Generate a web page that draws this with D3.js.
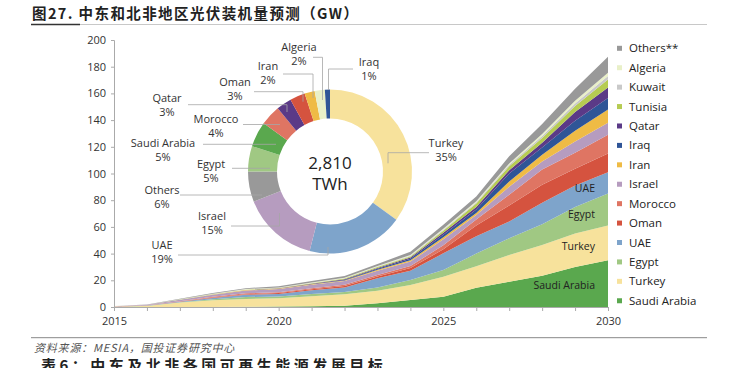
<!DOCTYPE html>
<html><head><meta charset="utf-8">
<script src="https://cdn.jsdelivr.net/npm/d3@7"></script>
<style>
html,body{margin:0;padding:0;background:#fff;}
svg{display:block;}
</style>
</head><body>
<svg id="c" width="739" height="368"></svg>
<script>
const years = [2015,2016,2017,2018,2019,2020,2021,2022,2023,2024,2025,2026,2027,2028,2029,2030];
const series = ["Saudi Arabia","Turkey","Egypt","UAE","Oman","Morocco","Israel","Iran","Iraq","Qatar","Tunisia","Kuwait","Algeria","Others**"];
const saudi   = [0,   0,   0,   0.05,0.1, 0.3, 0.5, 1.0, 2.8, 5.2, 7.7, 14.5,19,  23.5,30,  35];
const turkey  = [0.1, 0.8, 3.4, 5.1, 5.9, 6.2, 7.5, 8.5, 9.4, 11.3,15,  16,  20,  23,  25,  26];
const egypt   = [0.02,0.05,0.1, 0.6, 1.5, 1.3, 1.7, 1.7, 2.5, 3.7, 5,   9.5, 12.5,15.5,20,  24];
const uae     = [0.1, 0.3, 0.5, 1.0, 1.6, 2.0, 2.8, 3.5, 6.8, 7,   12.5,13,  12.5,16,  16,  16];
const oman    = [0.02,0.05,0.1, 0.3, 0.5, 0.6, 0.8, 1.0, 1.3, 2,   3,   8,   12,  13.5,12.5,14];
const morocco = [0.1, 0.1, 0.3, 0.6, 0.7, 0.7, 0.8, 0.9, 1.2, 1.5, 3,   4.5, 8,   11.5,12,  14];
const israel  = [0.3, 0.3, 1.0, 1.5, 2.0, 2.3, 2.5, 2.8, 3.2, 3.3, 4.5, 3.5, 6,   6,   8.5, 9];
const iran    = [0,   0.02,0.1, 0.3, 0.4, 0.4, 0.4, 0.5, 0.7, 1,   1.5, 1.5, 4,   5,   8,   10];
const iraq    = [0,   0,   0,   0,   0.05,0.1, 0.1, 0.3, 0.8, 1.2, 2,   2.5, 6,   5.5, 7.5, 8.5];
const qatar   = [0,   0,   0,   0,   0.05,0.1, 0.3, 0.6, 0.6, 0.8, 1.5, 2,   2.5, 3.5, 6.5, 8];
const tunisia = [0,   0.02,0.05,0.1, 0.2, 0.3, 0.4, 0.5, 0.6, 0.8, 1.5, 2.5, 3,   3.5, 4.5, 6];
const kuwait  = [0,   0.02,0.05,0.1, 0.1, 0.1, 0.2, 0.3, 0.4, 0.5, 0.7, 0.8, 1,   1.5, 2,   2.5];
const algeria = [0.1, 0.1, 0.2, 0.3, 0.3, 0.3, 0.4, 0.4, 0.5, 0.6, 0.8, 0.9, 1,   1.5, 2,   2.5];
const others  = [0.1, 0.1, 0.3, 0.5, 0.7, 0.8, 1.0, 1.2, 1.5, 2.5, 3,   3.5, 5.5, 7.5, 9,   12];
const seriesValues = [saudi,turkey,egypt,uae,oman,morocco,israel,iran,iraq,qatar,tunisia,kuwait,algeria,others];
const colors = ["#5aa84e","#f7e29c","#a0c883","#7ea4cb","#d5533f","#df7563","#b69cbf","#efbb45","#2f5597","#5b3a87","#b6cc52","#c9c9c9","#e9f0c8","#999999"];

const yTicks = [0,20,40,60,80,100,120,140,160,180,200];
const xTickLabels = [2015,2020,2025,2030];
const areaLabels = ["Saudi Arabia","Turkey","Egypt","UAE"];

const pieNames = ["Turkey","UAE","Israel","Others","Egypt","Saudi Arabia","Morocco","Qatar","Oman","Iran","Algeria","Iraq"];
const pieValues = [35,19,15,6,5,5,4,3,3,2,2,1];
const pieColors = ["#f7e29c","#7ea4cb","#b69cbf","#999999","#a0c883","#5aa84e","#df7563","#5b3a87","#d5533f","#efbb45","#e9f0c8","#2f5597"];
const pieCenterText = ["2,810","TWh"];

const titleText = "图27. 中东和北非地区光伏装机量预测（GW）";
const sourceText = "资料来源：MESIA，国投证券研究中心";
const nextTitle = "表6：中东及北非各国可再生能源发展目标";

const svg = d3.select("#c");
const FONT = "'Open Sans', sans-serif";
const CJK = "'Noto Sans CJK SC', sans-serif";

// title
svg.append("text").attr("x",32).attr("y",19).attr("font-family",CJK).attr("font-weight","bold")
  .attr("font-size",14.5).attr("letter-spacing",1.4).attr("fill","#222").text(titleText);
svg.append("line").attr("x1",31).attr("x2",707).attr("y1",24.5).attr("y2",24.5).attr("stroke","#c8c8c8").attr("stroke-width",1);
svg.append("line").attr("x1",31).attr("x2",80).attr("y1",24.5).attr("y2",24.5).attr("stroke","#333").attr("stroke-width",1.5);

const x = d3.scaleLinear().domain([2015,2030]).range([114,608]);
const y = d3.scaleLinear().domain([0,200]).range([307,40]);

// data table
const table = years.map((yr,i)=>{const o={year:yr}; series.forEach((s,j)=>o[s]=seriesValues[j][i]); return o;});
const stack = d3.stack().keys(series)(table);
const area = d3.area().x(d=>x(d.data.year)).y0(d=>y(d[0])).y1(d=>y(d[1]));
svg.append("g").selectAll("path").data(stack).join("path")
  .attr("d",area).attr("fill",(d,i)=>colors[i]);

// axes
const yAxis = d3.axisLeft(y).tickValues(yTicks).tickSize(3).tickPadding(5);
const gy = svg.append("g").attr("transform","translate(114,0)").call(yAxis);
gy.select(".domain").attr("stroke","#aaa");
gy.selectAll(".tick line").attr("stroke","#aaa");
gy.selectAll("text").attr("font-family",FONT).attr("font-size",11).attr("fill","#333");

const xAxis = d3.axisBottom(x).tickValues(years).tickSize(4).tickPadding(6)
  .tickFormat(d=>xTickLabels.includes(d)?d:"");
const gx = svg.append("g").attr("transform","translate(0,307)").call(xAxis);
gx.select(".domain").attr("stroke","#aaa");
gx.selectAll(".tick line").attr("stroke","#aaa");
gx.selectAll("text").attr("font-family",FONT).attr("font-size",11).attr("fill","#333");

// labels inside areas (at 2030 side)
areaLabels.forEach(name=>{
  const j = series.indexOf(name);
  const L = stack[j];
  const i0 = years.indexOf(2029), i1 = years.indexOf(2030);
  const t = 0.62;
  const lo = L[i0][0]*(1-t)+L[i1][0]*t, hi = L[i0][1]*(1-t)+L[i1][1]*t;
  svg.append("text").attr("x",595).attr("y",y((lo+hi)/2)+4).attr("text-anchor","end")
    .attr("font-family",FONT).attr("font-size",10.5).attr("fill","#222").text(name);
});

// legend
const legendOrder = series.slice().reverse();
const lg = svg.append("g");
legendOrder.forEach((name,i)=>{
  const j = series.indexOf(name);
  const yy = 48.3 + i*19.42;
  lg.append("rect").attr("x",617).attr("y",yy-2.5).attr("width",5).attr("height",5).attr("fill",colors[j]);
  lg.append("text").attr("x",629).attr("y",yy+4).attr("font-family",FONT).attr("font-size",11.5).attr("fill","#222").text(name);
});

// donut
const cx=330, cy=171.5, R=82, r=53;
const pie = d3.pie().sort(null).value(d=>d)(pieValues);
const arc = d3.arc().innerRadius(r).outerRadius(R);
const dg = svg.append("g").attr("transform",`translate(${cx},${cy})`);
dg.selectAll("path").data(pie).join("path").attr("d",arc).attr("fill",(d,i)=>pieColors[i]);
dg.append("text").attr("y",-3).attr("text-anchor","middle").attr("font-family",FONT).attr("font-size",17).attr("fill","#222").text(pieCenterText[0]);
dg.append("text").attr("y",18).attr("text-anchor","middle").attr("font-family",FONT).attr("font-size",17).attr("fill","#222").text(pieCenterText[1]);

// pie labels
const pieLabelPos = {
  "Turkey":[446,148],"UAE":[162,250],"Israel":[212,221],"Others":[162,195],"Egypt":[211,169],
  "Saudi Arabia":[163,148],"Morocco":[216,124],"Qatar":[167,103],"Oman":[235,87],"Iran":[268,71],
  "Algeria":[299,52],"Iraq":[369,67]
};
const leaders = {
  "Turkey":[[429,152.7],[388,152.7],[388,163.3]],
  "UAE":[[178,255],[328,255],[328,247]],
  "Israel":[[231,226],[279.5,226],[279.5,213]],
  "Others":[[180,195],[262,195]],
  "Egypt":[[232,168.3],[270,168.3]],
  "Saudi Arabia":[[203,144.3],[276,144.3]],
  "Morocco":[[243,124.5],[280,124.5]],
  "Qatar":[[188,104.7],[287,104.7],[287,112]],
  "Oman":[[254,91.7],[303,91.7],[303,101.7]],
  "Iran":[[283,74],[313,74],[313,98]],
  "Algeria":[[313,57.3],[322.5,57.3],[322.5,100]],
  "Iraq":[[353,69],[328.5,69],[328.5,90]]
};
const pl = svg.append("g");
pieNames.forEach((name,i)=>{
  pl.append("path").attr("d",d3.line()(leaders[name])).attr("fill","none").attr("stroke","#a6a6a6").attr("stroke-width",0.8);
  const [tx,ty]=pieLabelPos[name];
  const t = pl.append("text").attr("text-anchor","middle").attr("font-family",FONT).attr("font-size",11).attr("fill","#333");
  t.append("tspan").attr("x",tx).attr("y",ty-1).text(name);
  t.append("tspan").attr("x",tx).attr("y",ty+12.5).text(pieValues[i]+"%");
});

// footer
svg.append("line").attr("x1",31).attr("x2",707).attr("y1",337.7).attr("y2",337.7).attr("stroke","#888").attr("stroke-width",1);
svg.append("text").attr("x",34).attr("y",352).attr("font-family",CJK).attr("font-style","italic")
  .attr("font-size",11).attr("letter-spacing",0.8).attr("fill","#555").text(sourceText);
svg.append("text").attr("x",41).attr("y",371).attr("font-family",CJK).attr("font-weight","bold")
  .attr("font-size",15).attr("letter-spacing",3.5).attr("fill","#222").text(nextTitle);
</script>
</body></html>
